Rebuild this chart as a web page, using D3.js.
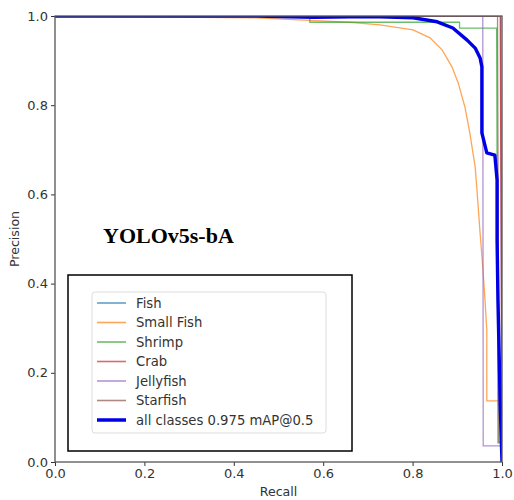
<!DOCTYPE html>
<html>
<head>
<meta charset="utf-8">
<script src="https://cdn.jsdelivr.net/npm/d3@7"></script>
<style>
  html, body { margin: 0; padding: 0; background: #fff; }
  svg { display: block; }
</style>
</head>
<body>
<svg id="chart" width="514" height="500"></svg>
<script>
// ---- data ----
const classNames = ["Fish", "Small Fish", "Shrimp", "Crab", "Jellyfish", "Starfish"];
const classColors = ["#1f77b4", "#ff7f0e", "#2ca02c", "#d62728", "#9467bd", "#8c564b"];

const fishRecall = [0, 0.997, 1.0];
const fishPrecision = [1, 1, 0];

const smallFishRecall = [0, 0.45, 0.57, 0.66, 0.727, 0.801, 0.839, 0.866, 0.888, 0.902, 0.917, 0.928, 0.940, 0.944, 0.951, 0.957, 0.962, 0.966, 0.966, 0.996, 1.0];
const smallFishPrecision = [1, 0.996, 0.99, 0.986, 0.980, 0.969, 0.951, 0.924, 0.886, 0.850, 0.796, 0.738, 0.661, 0.610, 0.513, 0.437, 0.363, 0.296, 0.137, 0.137, 0];

const shrimpRecall = [0, 0.57, 0.57, 0.905, 0.905, 0.988, 0.991, 0.998, 1.0];
const shrimpPrecision = [1, 1, 0.986, 0.986, 0.973, 0.973, 0.043, 0.043, 0];

const crabRecall = [0, 0.996, 1.0];
const crabPrecision = [1, 1, 0];

const jellyfishRecall = [0, 0.957, 0.958, 0.998, 1.0];
const jellyfishPrecision = [1, 1, 0.036, 0.036, 0];

const starfishRecall = [0, 0.99, 0.993, 0.998, 1.0];
const starfishPrecision = [1, 1, 0.045, 0.045, 0];

const allRecall = [0, 0.45, 0.58, 0.66, 0.727, 0.801, 0.855, 0.890, 0.922, 0.940, 0.951, 0.955, 0.955, 0.966, 0.984, 0.989, 0.989, 0.991, 0.996, 1.0];
const allPrecision = [1, 1, 0.997, 0.998, 0.998, 0.996, 0.987, 0.973, 0.946, 0.928, 0.906, 0.886, 0.738, 0.693, 0.688, 0.632, 0.498, 0.363, 0.128, 0];
const allLabel = "all classes 0.975 mAP@0.5";

const xTicks = [0.0, 0.2, 0.4, 0.6, 0.8, 1.0];
const yTicks = [0.0, 0.2, 0.4, 0.6, 0.8, 1.0];
const titleText = "YOLOv5s-bA";

const classRecalls = [fishRecall, smallFishRecall, shrimpRecall, crabRecall, jellyfishRecall, starfishRecall];
const classPrecisions = [fishPrecision, smallFishPrecision, shrimpPrecision, crabPrecision, jellyfishPrecision, starfishPrecision];

// ---- layout ----
const svg = d3.select("#chart");
const L = 55, R = 502, T = 16, B = 462;
const x = d3.scaleLinear().domain([0, 1]).range([L, R]);
const y = d3.scaleLinear().domain([0, 1]).range([B, T]);
const font = "DejaVu Sans, sans-serif";

svg.append("defs").append("clipPath").attr("id", "clip")
  .append("rect").attr("x", L).attr("y", T).attr("width", R - L).attr("height", B - T);

const line = d3.line().x(d => x(d[0])).y(d => y(d[1]));
const plot = svg.append("g").attr("clip-path", "url(#clip)");

classNames.forEach((name, i) => {
  const pts = classRecalls[i].map((r, j) => [r, classPrecisions[i][j]]);
  plot.append("path").datum(pts)
    .attr("d", line).attr("fill", "none")
    .attr("stroke", classColors[i]).attr("stroke-opacity", 0.7)
    .attr("stroke-width", 1.3);
});
plot.append("path").datum(allRecall.map((r, j) => [r, allPrecision[j]]))
  .attr("d", line).attr("fill", "none")
  .attr("stroke", "#0000e6").attr("stroke-width", 3.4)
  .attr("stroke-linejoin", "round");

// ---- axes ----
const xAxis = d3.axisBottom(x).tickValues(xTicks).tickFormat(d3.format(".1f")).tickSize(4).tickPadding(3);
const yAxis = d3.axisLeft(y).tickValues(yTicks).tickFormat(d3.format(".1f")).tickSize(4).tickPadding(3);

const gx = svg.append("g").attr("transform", `translate(0,${B})`).call(xAxis);
const gy = svg.append("g").attr("transform", `translate(${L},0)`).call(yAxis);
[gx, gy].forEach(g => {
  g.select(".domain").remove();
  g.selectAll(".tick line").attr("stroke", "#333");
  g.selectAll(".tick text").attr("fill", "#333").style("font-family", font).style("font-size", "13px");
});

// spines
svg.append("rect").attr("x", L).attr("y", T).attr("width", R - L).attr("height", B - T)
  .attr("fill", "none").attr("stroke", "#555").attr("stroke-width", 1.3);

// axis labels
svg.append("text").attr("x", (L + R) / 2).attr("y", 496).attr("text-anchor", "middle")
  .style("font-family", font).style("font-size", "12.6px").attr("fill", "#333").text("Recall");
svg.append("text").attr("transform", `translate(19,${(T + B) / 2}) rotate(-90)`)
  .attr("text-anchor", "middle")
  .style("font-family", font).style("font-size", "12.6px").attr("fill", "#333").text("Precision");

// title annotation
svg.append("text").attr("x", 103).attr("y", 243)
  .style("font-family", "Liberation Serif, Times New Roman, serif").style("font-weight", "bold")
  .style("font-size", "22px").attr("fill", "#000").text(titleText);

// outer annotation box
svg.append("rect").attr("x", 68).attr("y", 275).attr("width", 284).attr("height", 176)
  .attr("fill", "#fff").attr("stroke", "#000").attr("stroke-width", 1.5);

// legend
const leg = svg.append("g");
leg.append("rect").attr("x", 92).attr("y", 292).attr("width", 234).attr("height", 141)
  .attr("rx", 3).attr("fill", "#fff").attr("stroke", "#ddd").attr("stroke-width", 1);

const legItems = classNames.map((n, i) => ({ label: n, color: classColors[i], w: 1.6, op: 0.7 }))
  .concat([{ label: allLabel, color: "#0000e6", w: 3.5, op: 1 }]);
const rowY = d3.scaleLinear().domain([0, legItems.length - 1]).range([303, 420]);
legItems.forEach((it, i) => {
  const yy = rowY(i);
  leg.append("line").attr("x1", 97).attr("x2", 126).attr("y1", yy).attr("y2", yy)
    .attr("stroke", it.color).attr("stroke-opacity", it.op).attr("stroke-width", it.w);
  leg.append("text").attr("x", 136).attr("y", yy).attr("dy", "0.36em")
    .style("font-family", font).style("font-size", "13.2px").attr("fill", "#333").text(it.label);
});
</script>
</body>
</html>
